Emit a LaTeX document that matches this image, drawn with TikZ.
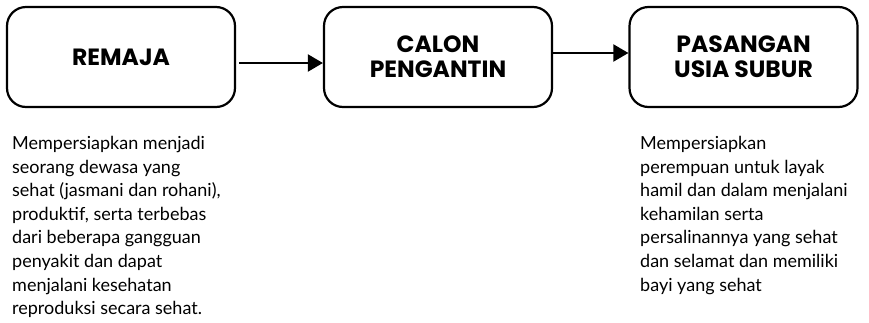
\documentclass[tikz,border=0pt]{standalone}
\usepackage{fontspec}
\setmainfont{Lato}
\newfontfamily\headfont{Poppins}
\usetikzlibrary{arrows.meta, positioning}

\begin{document}
\begin{tikzpicture}[
    x=1pt, y=1pt,
    % Styles for stage boxes and notes
    stage/.style={draw=black, line width=2.2pt, rounded corners=19pt,
        minimum width=228pt, minimum height=100pt, align=center,
        font=\headfont\bfseries\fontsize{23.5}{25}\selectfont},
    note/.style={anchor=north west, align=left, inner sep=0pt,
        font=\fontsize{18}{23.6}\selectfont},
    flow/.style={line width=2pt, -{Triangle[length=15pt, width=17pt]}}
]
    \useasboundingbox (0,0) rectangle (869,-322);

        % --- Stages ---
        \node[stage] (remaja) at (121, -57) {REMAJA};
        \node[stage] (catin) at (438, -57) {CALON\\PENGANTIN};
        \node[stage] (pus) at (743.5, -57) {PASANGAN\\USIA SUBUR};

        % --- Notes ---
        \node[note] (nremaja) at (12, -136) {Mempersiapkan menjadi\\
            seorang dewasa yang\\
            sehat (jasmani dan rohani),\\
            produktif, serta terbebas\\
            dari beberapa gangguan\\
            penyakit dan dapat\\
            menjalani kesehatan\\
            reproduksi secara sehat.};
        \node[note] (npus) at (640, -136) {Mempersiapkan\\
            perempuan untuk layak\\
            hamil dan dalam menjalani\\
            kehamilan serta\\
            persalinannya yang sehat\\
            dan selamat dan memiliki\\
            bayi yang sehat};

        % --- Arrows ---
        \draw[flow] ([yshift=-6pt]remaja.east) ++(3,0) -- ([yshift=-6pt]catin.west);
        \draw[flow] ([yshift=4pt]catin.east) -- ([yshift=4pt]pus.west);

    \end{tikzpicture}
\end{document}
